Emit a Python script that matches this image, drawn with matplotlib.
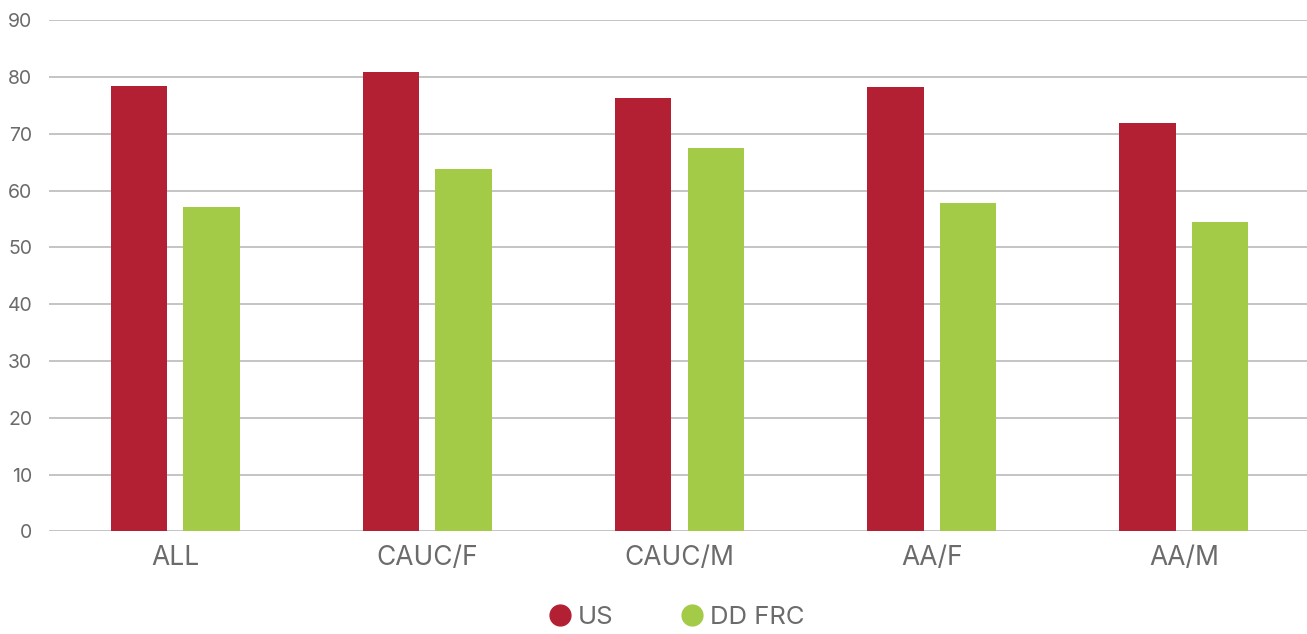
import matplotlib
matplotlib.use("Agg")
import matplotlib.pyplot as plt
from matplotlib.lines import Line2D
import numpy as np

categories = ["ALL", "CAUC/F", "CAUC/M", "AA/F", "AA/M"]
us_values = [78.5, 81.0, 76.4, 78.3, 72.0]
dd_values = [57.1, 63.8, 67.5, 57.8, 54.5]
series_names = ["US", "DD FRC"]
yticks = [0, 10, 20, 30, 40, 50, 60, 70, 80, 90]

RED = "#B32034"
GREEN = "#A4CB48"
TXT = "#6b6b6b"
GRID = "#c4c4c4"

plt.rcParams["font.family"] = ["Inter", "DejaVu Sans"]

fig = plt.figure(figsize=(13.07, 6.34), dpi=100)
ax = fig.add_axes([49 / 1307, 0.162, 1261 / 1307, 0.8058])

x = np.arange(len(categories))
w = 0.224
off = 0.144
ax.bar(x - off, us_values, width=w, color=RED, zorder=3)
ax.bar(x + off, dd_values, width=w, color=GREEN, zorder=3)

ax.set_xlim(-0.5, len(categories) - 0.5)
ax.set_ylim(0, 90)
ax.set_yticks(yticks)
ax.set_xticks(x)
ax.set_xticklabels(categories, fontsize=19, color=TXT)
ax.tick_params(axis="y", labelsize=14, colors=TXT, length=0, pad=12)
ax.tick_params(axis="x", length=0, pad=10)
ax.grid(axis="y", color=GRID, linewidth=1.4, zorder=0)
for s in ax.spines.values():
    s.set_visible(False)

handles = [Line2D([], [], marker="o", linestyle="", markersize=15, color=RED),
           Line2D([], [], marker="o", linestyle="", markersize=15, color=GREEN)]
leg = fig.legend(handles, series_names, loc="lower center", bbox_to_anchor=(0.516, -0.017),
                 ncol=2, frameon=False, fontsize=18.5, handletextpad=0.1,
                 columnspacing=2.45, handlelength=1.2, borderpad=0.1)
for t in leg.get_texts():
    t.set_color(TXT)

fig.savefig("out.png", dpi=100)
